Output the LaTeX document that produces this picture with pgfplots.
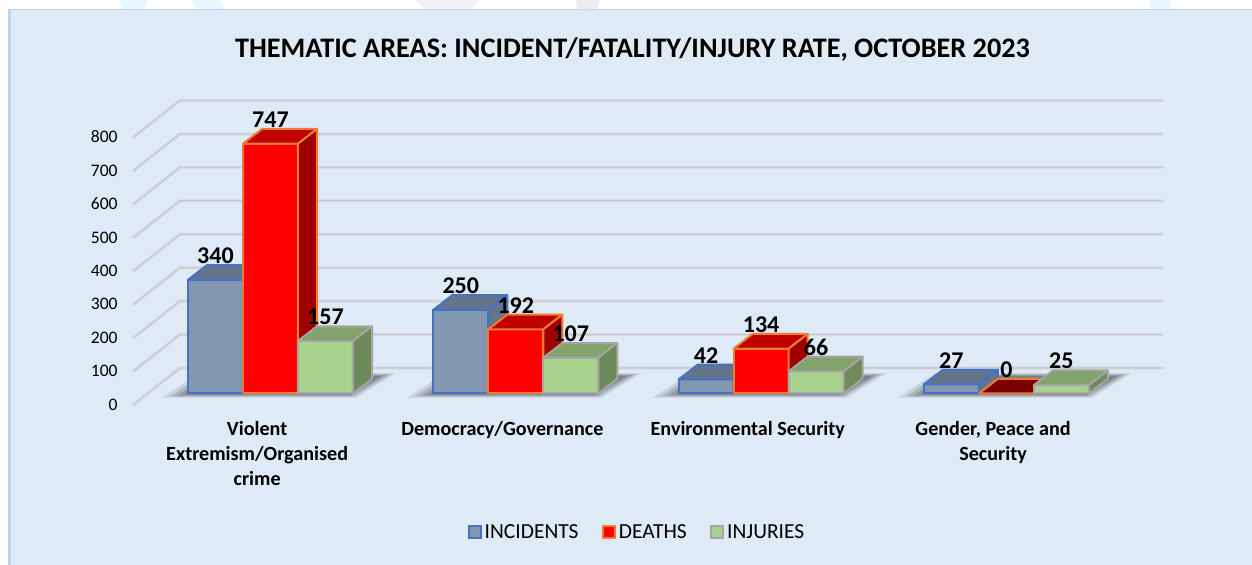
\documentclass[border=0pt]{standalone}
\usepackage{pgfplots}
\pgfplotsset{compat=1.18}
\usepackage{fontspec}
\setmainfont{Carlito}
\definecolor{panel}{HTML}{DEEAF6}
\definecolor{paneledge}{HTML}{C3D1EE}
\definecolor{bluef}{HTML}{8497B0}
\definecolor{bluet}{HTML}{64748A}
\definecolor{blues}{HTML}{64748A}
\definecolor{bluee}{HTML}{4472C4}
\definecolor{redf}{HTML}{FF0000}
\definecolor{redt}{HTML}{C00000}
\definecolor{reds}{HTML}{A00000}
\definecolor{rede}{HTML}{ED7D31}
\definecolor{greenf}{HTML}{A9D18E}
\definecolor{greent}{HTML}{84A26C}
\definecolor{greens}{HTML}{6E8A5A}
\definecolor{greene}{HTML}{A5A5A5}
\definecolor{gridc}{HTML}{C8CACC}
\definecolor{gridl}{HTML}{D8DCE0}
\newcommand\gridline[1]{%
  \pgfmathsetmacro\ya{#1-34.4}\pgfmathsetmacro\yb{#1+76.2}%
  \addplot[forget plot,gridl,line width=2.4pt] coordinates {(-0.5605,\ya) (-0.3689,\yb) (3.6391,\yb)};
  \addplot[forget plot,gridc,line width=0.9pt] coordinates {(-0.5605,\ya) (-0.3689,\yb) (3.6391,\yb)};
}
\newcommand\floorshadow[1]{%
  \pgfmathsetmacro\a{#1-.44}\pgfmathsetmacro\b{#1+.35}\pgfmathsetmacro\c{#1+.51}\pgfmathsetmacro\d{#1-.29}%
  \addplot[forget plot,draw=none,fill=black,fill opacity=.1] coordinates {(\a,-12) (\b,-12) (\c,61) (\d,61)} --cycle;
  \pgfmathsetmacro\a{#1-.41}\pgfmathsetmacro\b{#1+.34}\pgfmathsetmacro\c{#1+.49}\pgfmathsetmacro\d{#1-.27}%
  \addplot[forget plot,draw=none,fill=black,fill opacity=.13] coordinates {(\a,-9) (\b,-9) (\c,58) (\d,58)} --cycle;
  \pgfmathsetmacro\a{#1-.38}\pgfmathsetmacro\b{#1+.33}\pgfmathsetmacro\c{#1+.47}\pgfmathsetmacro\d{#1-.25}%
  \addplot[forget plot,draw=none,fill=black,fill opacity=.15] coordinates {(\a,-6) (\b,-6) (\c,55) (\d,55)} --cycle;
  \pgfmathsetmacro\a{#1-.35}\pgfmathsetmacro\b{#1+.32}\pgfmathsetmacro\c{#1+.45}\pgfmathsetmacro\d{#1-.23}%
  \addplot[forget plot,draw=none,fill=black,fill opacity=.17] coordinates {(\a,-3) (\b,-3) (\c,52) (\d,52)} --cycle;
}
% #1 bar centre, #2 value, #3 top colour, #4 side colour, #5 edge colour
\newcommand\faces[5]{%
  \pgfmathsetmacro\xl{#1-.1121}\pgfmathsetmacro\xr{#1+.1121}%
  \pgfmathsetmacro\xlb{#1-.1121+.0775}\pgfmathsetmacro\xrb{#1+.1121+.0775}%
  \pgfmathsetmacro\yb{#2+44}%
  \addplot[forget plot,fill=#3,draw=#5,line width=1.5pt,line join=round] coordinates {(\xl,#2) (\xlb,\yb) (\xrb,\yb) (\xr,#2)} --cycle;
  \addplot[forget plot,fill=#4,draw=#5,line width=1.5pt,line join=round] coordinates {(\xr,0) (\xrb,44) (\xrb,\yb) (\xr,#2)} --cycle;
}
\pgfplotsset{
  threed/.style n args={3}{ybar,bar width=41.25pt,bar shift=#1,fill=#2,draw=#3,line width=1.5pt,
    legend image code/.code={\draw[fill=#2,draw=#3,line width=1.5pt] (0pt,-4.6pt) rectangle (9pt,4.6pt);},
    nodes near coords,
    every node near coord/.append style={font=\bfseries\fontsize{18}{20}\selectfont,text=black,anchor=center,xshift=#1,yshift=18pt}},
}
\begin{document}
\begin{tikzpicture}[x=0.75pt,y=0.75pt]
\useasboundingbox (0,0) rectangle (1252,564);
\fill[white] (0,0) rectangle (1252,564);
\fill[cyan!10] (120,564) -- (148,564) -- (145,554) -- (123,554) --cycle;
\fill[cyan!10] (192,564) -- (220,564) -- (224,554) -- (198,554) --cycle;
\fill[black!5] (415,564) -- (480,564) -- (470,554) -- (425,554) --cycle;
\fill[black!7] (575,564) -- (600,564) -- (597,554) -- (578,554) --cycle;
\fill[cyan!10] (1150,564) -- (1170,564) -- (1172,554) -- (1150,554) --cycle;
\fill[panel] (9,-2) rectangle (1254,555);
\draw[paneledge,line width=0.6pt] (8.5,-2) -- (8.5,555) -- (1254,555);
\fill[paneledge] (8,-2) rectangle (11,555);
\node[font=\bfseries\fontsize{21.2}{24}\selectfont,text=black] at (632.5,514.5) {THEMATIC AREAS: INCIDENT/FATALITY/INJURY RATE, OCTOBER 2023};
\begin{axis}[
  at={(99.75pt,119.25pt)},anchor=south west,
  x=183.975pt,y=0.2508pt,
  xmin=-0.5605,xmax=3.6391,ymin=-34.4,ymax=875.6,
  clip=false,
  axis line style={draw=none},
  tick style={draw=none},
  /pgf/number format/assume math mode=true,
  ytick={0,100,...,800},
  yticklabel style={font=\fontsize{13.2}{14}\selectfont,text=black,yshift=-8.3pt,xshift=-8pt},
  xtick={0,1,2,3},
  xticklabels={Violent\\Extremism/Organised\\crime,Democracy/Governance,Environmental Security,{Gender, Peace and\\Security}},
  xticklabel style={font=\bfseries\fontsize{15.1}{18.75}\selectfont,text=black,align=center,xshift=-10pt,yshift=-8.7pt},
  legend style={at={(axis cs:1.496,-415)},anchor=center,draw=none,fill=none,legend columns=3,font=\fontsize{16.1}{18}\selectfont,
    /tikz/column 2/.style={column sep=15.75pt},/tikz/column 4/.style={column sep=15.75pt}},
]
\gridline{0}\gridline{100}\gridline{200}\gridline{300}\gridline{400}\gridline{500}\gridline{600}\gridline{700}\gridline{800}
\floorshadow{0}\floorshadow{1}\floorshadow{2}\floorshadow{3}
\addplot[threed={-41.25pt}{bluef}{bluee}] coordinates {(0,340) (1,250) (2,42) (3,27)};
\faces{-.2242}{340}{bluet}{blues}{bluee}
\faces{.7758}{250}{bluet}{blues}{bluee}
\faces{1.7758}{42}{bluet}{blues}{bluee}
\faces{2.7758}{27}{bluet}{blues}{bluee}
\addlegendentry{INCIDENTS}
\addplot[threed={0pt}{redf}{rede}] coordinates {(0,747) (1,192) (2,134) (3,0)};
\faces{0}{747}{redt}{reds}{rede}
\faces{1}{192}{redt}{reds}{rede}
\faces{2}{134}{redt}{reds}{rede}
\faces{3}{0}{red!48!black}{reds}{rede}
\addlegendentry{DEATHS}
\addplot[threed={41.25pt}{greenf}{greene}] coordinates {(0,157) (1,107) (2,66) (3,25)};
\faces{.2242}{157}{greent}{greens}{greene}
\faces{1.2242}{107}{greent}{greens}{greene}
\faces{2.2242}{66}{greent}{greens}{greene}
\faces{3.2242}{25}{greent}{greens}{greene}
\addlegendentry{INJURIES}
\end{axis}
\end{tikzpicture}
\end{document}
